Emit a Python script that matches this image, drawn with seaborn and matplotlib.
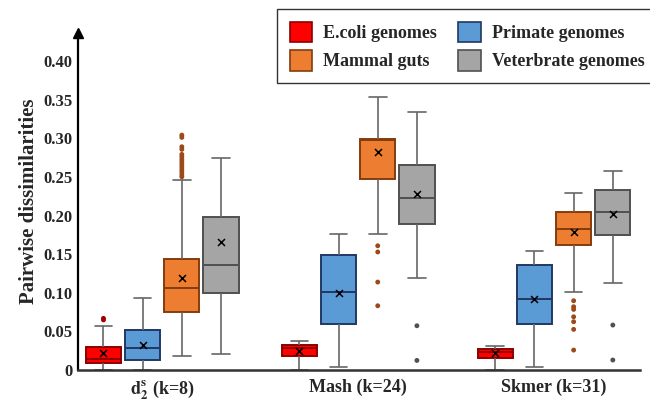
import numpy as np
import pandas as pd
import seaborn as sns
import matplotlib.pyplot as plt
from matplotlib.patches import Patch

methods = ['d2s', 'Mash', 'Skmer']
method_labels = [r'$\mathbf{d_2^s}$ (k=8)', 'Mash (k=24)', 'Skmer (k=31)']
datasets = ['E.coli genomes', 'Primate genomes', 'Mammal guts', 'Veterbrate genomes']

# five numbers per box (per method): lower whisker, q1, median, q3, upper whisker
ecoli_box = [[0.0, 0.0087, 0.0138, 0.030, 0.057],
             [0.0, 0.0181, 0.028, 0.0324, 0.0376],
             [0.0, 0.016, 0.0237, 0.0272, 0.0315]]
primate_box = [[0.0, 0.013, 0.0289, 0.0518, 0.0937],
               [0.0043, 0.0592, 0.1015, 0.149, 0.176],
               [0.0035, 0.0592, 0.0915, 0.136, 0.1546]]
mammal_box = [[0.018, 0.0747, 0.1066, 0.1434, 0.2457],
              [0.176, 0.247, 0.298, 0.2988, 0.354],
              [0.1015, 0.162, 0.183, 0.2042, 0.2297]]
vertebrate_box = [[0.0203, 0.0993, 0.1356, 0.1986, 0.275],
                  [0.1196, 0.1887, 0.2224, 0.2655, 0.3338],
                  [0.1123, 0.1749, 0.205, 0.2332, 0.2578]]

ecoli_mean = [0.0225, 0.025, 0.0216]
primate_mean = [0.0324, 0.100, 0.0915]
mammal_mean = [0.119, 0.282, 0.179]
vertebrate_mean = [0.166, 0.228, 0.2017]

ecoli_out = [[0.065, 0.067], [], []]
primate_out = [[], [], []]
mammal_out = [[0.2504, 0.2534, 0.2569, 0.2599, 0.2634, 0.2666, 0.2698,
               0.2728, 0.2763, 0.2794, 0.2859, 0.2893, 0.3014, 0.3044],
              [0.161, 0.153, 0.114, 0.0833],
              [0.0898, 0.082, 0.0786, 0.069, 0.0626, 0.0527, 0.0259]]
vertebrate_out = [[], [0.0574, 0.0125], [0.0583, 0.013]]

fill = {'E.coli genomes': '#FF0000', 'Primate genomes': '#5B9BD5',
        'Mammal guts': '#ED7D31', 'Veterbrate genomes': '#A5A5A5'}
edge = {'E.coli genomes': '#8B0000', 'Primate genomes': '#203864',
        'Mammal guts': '#843C0C', 'Veterbrate genomes': '#505050'}
dot = {'E.coli genomes': '#A00000', 'Primate genomes': '#203864',
       'Mammal guts': '#9C4A1A', 'Veterbrate genomes': '#505050'}

#%%
boxes = dict(zip(datasets, [ecoli_box, primate_box, mammal_box, vertebrate_box]))
means = dict(zip(datasets, [ecoli_mean, primate_mean, mammal_mean, vertebrate_mean]))
outs = dict(zip(datasets, [ecoli_out, primate_out, mammal_out, vertebrate_out]))

rows, mrows, orows = [], [], []
for d in datasets:
    for i, m in enumerate(methods):
        for v in boxes[d][i]:
            rows.append((m, d, v))
        mrows.append((m, d, means[d][i]))
        for v in outs[d][i]:
            orows.append((m, d, v))
df = pd.DataFrame(rows, columns=['method', 'dataset', 'value'])
df_mean = pd.DataFrame(mrows, columns=['method', 'dataset', 'value'])
df_out = pd.DataFrame(orows, columns=['method', 'dataset', 'value'])

#%%
sns.set_style('white')
plt.rcParams['font.family'] = ['Liberation Serif', 'DejaVu Serif']
plt.rcParams['font.weight'] = 'bold'
plt.rcParams['mathtext.fontset'] = 'stix'

fig = plt.figure(figsize=(6.5, 4.04), dpi=100)
ax = fig.add_axes([0.12, 0.084, 0.865, 0.834])

sns.boxplot(data=df, x='method', y='value', hue='dataset', order=methods,
            hue_order=datasets, palette=fill, saturation=1, whis=(0, 100),
            showfliers=False, width=0.8, gap=0.1, linewidth=1.2,
            linecolor='#666666', legend=False, ax=ax)

# colour box edges and medians per dataset
for cont, d in zip(ax.containers, datasets):
    for b in cont.boxes:
        b.set_edgecolor(edge[d])
        b.set_linewidth(1.4)
    for md in cont.medians:
        md.set_color(edge[d])
        md.set_linewidth(1.4)

sns.stripplot(data=df_out, x='method', y='value', hue='dataset', order=methods,
              hue_order=datasets, palette=dot, dodge=True, jitter=False,
              size=3.5, linewidth=0, legend=False, ax=ax)
sns.stripplot(data=df_mean, x='method', y='value', hue='dataset', order=methods,
              hue_order=datasets, palette={d: 'black' for d in datasets},
              dodge=True, jitter=False, marker='x', size=5, linewidth=1.1,
              legend=False, ax=ax)

ax.set_xlim(-0.43, 2.44)
ax.set_ylim(0, 0.4365)
yt = [0, 0.05, 0.10, 0.15, 0.20, 0.25, 0.30, 0.35, 0.40]
ax.set_yticks(yt)
ax.set_yticklabels(['0'] + [f'{v:.2f}' for v in yt[1:]], fontsize=12, fontweight='bold')
ax.set_xticks(range(len(methods)))
ax.set_xticklabels(method_labels, fontsize=13, fontweight='bold')
ax.tick_params(axis='y', length=2, width=1, direction='out', pad=2)
ax.tick_params(axis='x', length=0, pad=6)
ax.set_xlabel('')
ax.set_ylabel('Pairwise dissimilarities', fontsize=15, fontweight='bold')
ax.yaxis.set_label_coords(-0.07, 0.5)

sns.despine(ax=ax)
ax.spines['left'].set_linewidth(1.6)
ax.spines['bottom'].set_linewidth(1.8)
ax.spines['left'].set_color('black')
ax.spines['bottom'].set_color('#333333')
ax.plot(0, 1, marker='^', color='black', markersize=7,
        transform=ax.transAxes, clip_on=False)

order_leg = ['E.coli genomes', 'Mammal guts', 'Primate genomes', 'Veterbrate genomes']
handles = [Patch(facecolor=fill[d], edgecolor=edge[d], linewidth=1.2, label=d)
           for d in order_leg]
fig.legend(handles=handles, ncol=2, loc='upper left', bbox_to_anchor=(0.426, 0.977),
           frameon=True, fancybox=False, edgecolor='#333333', framealpha=1,
           handlelength=1.25, handleheight=1.35, handletextpad=0.6, columnspacing=1.2,
           borderpad=0.7, labelspacing=0.45, borderaxespad=0,
           prop={'family': ['Liberation Serif'], 'weight': 'bold', 'size': 13})

fig.savefig('out.png', dpi=100)
